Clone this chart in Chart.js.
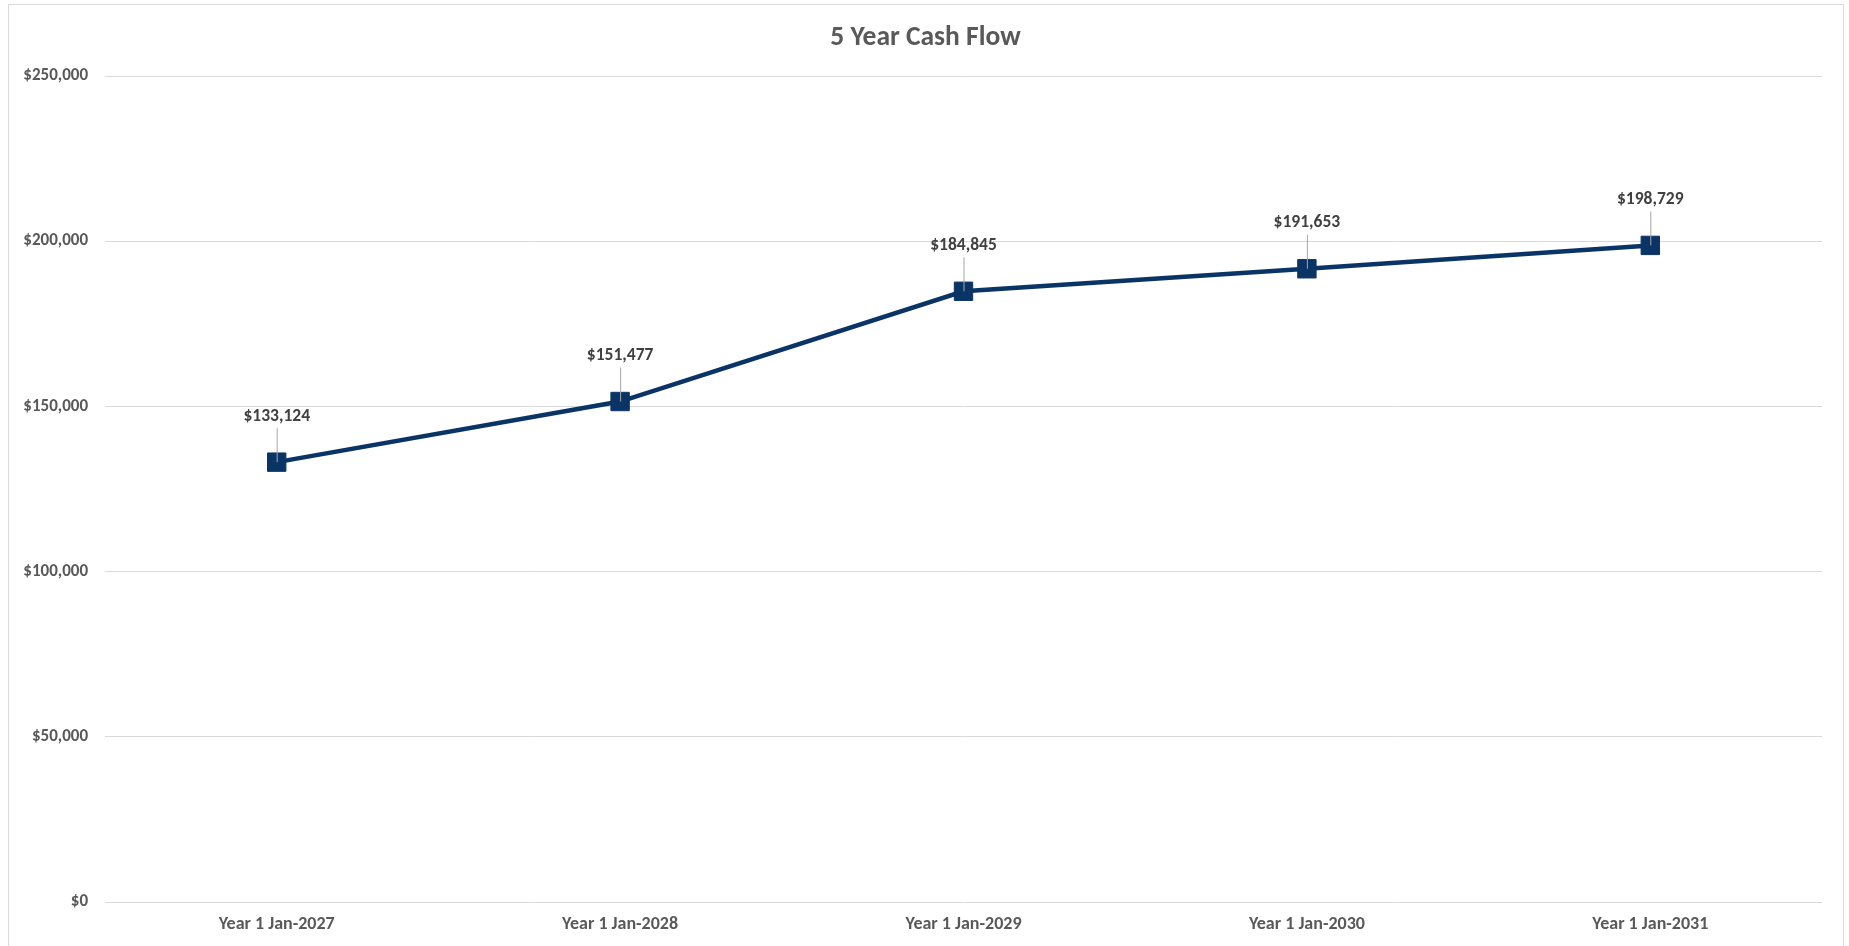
<!DOCTYPE html>
<html>
<head>
<meta charset="utf-8">
<script src="https://cdn.jsdelivr.net/npm/chart.js@4/dist/chart.umd.min.js"></script>
<style>
  html, body { margin: 0; padding: 0; background: #ffffff; }
  #wrap { width: 1849px; height: 946px; position: relative; }
  canvas { display: block; }
</style>
</head>
<body>
<div id="wrap"><canvas id="c" width="1849" height="946"></canvas></div>
<script>
const chartTitle = "5 Year Cash Flow";
const categories = ["Year 1 Jan-2027", "Year 1 Jan-2028", "Year 1 Jan-2029", "Year 1 Jan-2030", "Year 1 Jan-2031"];
const cashFlow = [133124, 151477, 184845, 191653, 198729];
const yTickValues = [0, 50000, 100000, 150000, 200000, 250000];

const FONT = "Carlito, Lato, 'Liberation Sans', sans-serif";
const money = v => "$" + Math.round(v).toLocaleString("en-US");

const framePlugin = {
  id: "frame",
  beforeDraw(chart) {
    const ctx = chart.ctx;
    ctx.save();
    ctx.fillStyle = "#ffffff";
    ctx.fillRect(0, 0, chart.width, chart.height);
    ctx.strokeStyle = "#d9d9d9";
    ctx.lineWidth = 1;
    ctx.strokeRect(8.5, 4.5, chart.width - 14, chart.height + 10);
    ctx.fillStyle = "#595959";
    ctx.font = "bold 27.5px " + FONT;
    ctx.textAlign = "center";
    ctx.textBaseline = "middle";
    ctx.fillText(chartTitle, chart.width / 2 + 1, 38);
    ctx.restore();
  }
};

const labelPlugin = {
  id: "pointLabels",
  afterDatasetsDraw(chart) {
    const ctx = chart.ctx;
    const meta = chart.getDatasetMeta(0);
    ctx.save();
    ctx.font = "bold 17.5px " + FONT;
    ctx.textAlign = "center";
    ctx.textBaseline = "middle";
    meta.data.forEach((pt, i) => {
      const ly = pt.y - 46;
      ctx.strokeStyle = "#a6a6a6";
      ctx.lineWidth = 1;
      ctx.beginPath();
      ctx.moveTo(pt.x + 0.5, ly + 12);
      ctx.lineTo(pt.x + 0.5, pt.y);
      ctx.stroke();
      ctx.fillStyle = "#404040";
      ctx.fillText(money(cashFlow[i]), pt.x, ly);
    });
    ctx.restore();
  }
};

new Chart(document.getElementById("c"), {
  type: "line",
  data: {
    labels: categories,
    datasets: [{
      data: cashFlow,
      borderColor: "#0b3466",
      backgroundColor: "#0b3466",
      borderWidth: 4.5,
      pointStyle: "rect",
      pointRadius: 13,
      pointHoverRadius: 13,
      pointBorderWidth: 1,
      pointBorderColor: "#0b3466",
      pointBackgroundColor: "#0b3466",
      tension: 0,
      clip: false
    }]
  },
  options: {
    responsive: false,
    animation: false,
    layout: { padding: { top: 76, right: 27, bottom: 0, left: 0 } },
    plugins: {
      legend: { display: false },
      title: { display: false },
      tooltip: { enabled: false }
    },
    scales: {
      x: {
        offset: true,
        grid: { display: false, drawTicks: false },
        border: { display: false },
        ticks: { color: "#595959", font: { family: FONT, size: 18, weight: "bold" }, padding: 12, maxRotation: 0 },
        afterFit(s) { s.height = 44; }
      },
      y: {
        min: 0,
        max: 250000,
        afterBuildTicks(s) { s.ticks = yTickValues.map(v => ({ value: v })); },
        grid: { color: "#d9d9d9", lineWidth: 1, drawTicks: false },
        border: { display: false },
        ticks: { color: "#595959", font: { family: FONT, size: 17, weight: "bold" }, padding: 17, callback: v => money(v) },
        afterFit(s) { s.width = 105; }
      }
    }
  },
  plugins: [framePlugin, labelPlugin]
});
</script>
</body>
</html>
